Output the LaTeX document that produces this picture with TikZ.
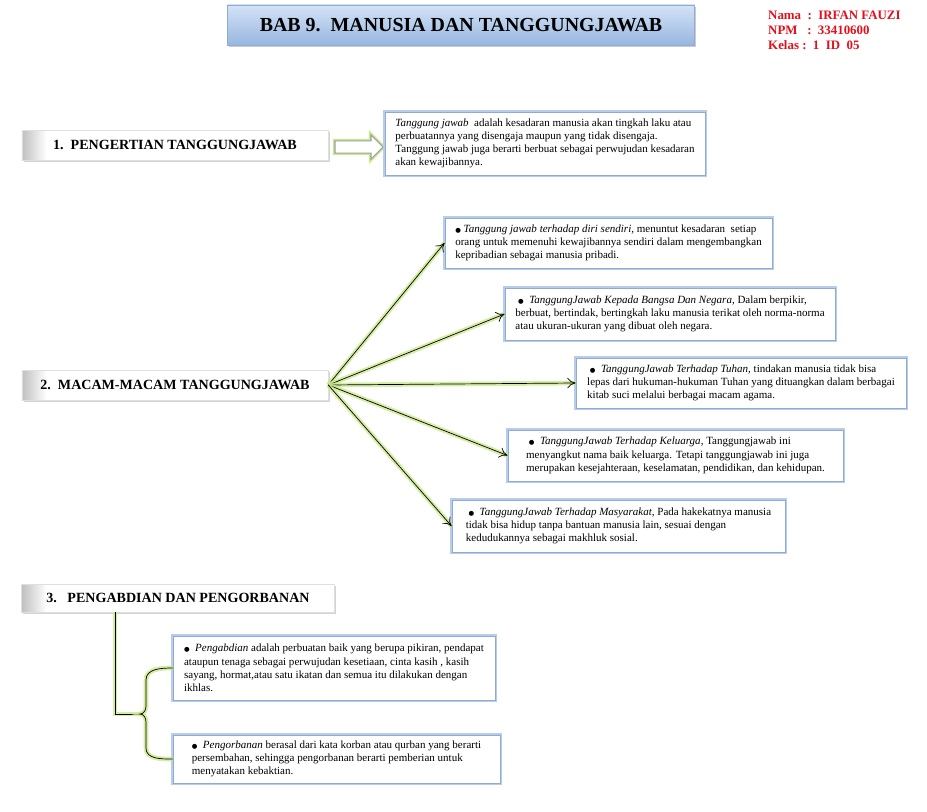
\documentclass[tikz,border=0pt]{standalone}
\usepackage{fontspec}
\setmainfont{Liberation Serif}
\newfontfamily\symfont{DejaVu Sans}
\usetikzlibrary{shapes.arrows,shadows,arrows.meta}
\definecolor{titleblue}{HTML}{98B6E0}
\definecolor{titlelight}{HTML}{D3E3F6}
\definecolor{glowblue}{HTML}{B7CDEB}
\definecolor{edgeblue}{HTML}{8FAAD4}
\definecolor{glowgreen}{HTML}{CBE98E}
\definecolor{namered}{HTML}{E3101C}
\newcommand\bul{{\symfont\fontsize{5.5}{5}\selectfont ●}}
\pgfdeclarehorizontalshading{secshade}{100bp}{color(0bp)=(gray!50); color(25bp)=(gray!50); color(29bp)=(white); color(100bp)=(white)}
\tikzset{
  secbox/.style 2 args={shading=secshade, draw=gray!25, minimum width=#1cm, minimum height=#2cm,
    font=\fontsize{12}{14}\selectfont\bfseries,
    drop shadow={opacity=.35, shadow xshift=1.5pt, shadow yshift=-2pt}},
  dbox/.style 2 args={draw=edgeblue, line width=.8pt, fill=white, align=left, inner sep=2pt,
    preaction={draw=glowblue, line width=4pt}, minimum width=#1cm, minimum height=#2cm,
    font=\fontsize{9.4}{11.3}\selectfont},
  link/.style={draw=black, line width=.6pt, -{To[length=7pt,width=9pt]},
    preaction={draw=glowgreen, -, line width=4pt, opacity=.8}},
  rod/.style={draw=black, line width=.6pt, preaction={draw=glowgreen, line width=4pt, opacity=.8}}
}
\begin{document}
\begin{tikzpicture}[x=0.03cm, y=-0.03cm]
  \useasboundingbox (0,0) rectangle (927,811);
  % judul
  \node[draw=edgeblue, top color=titlelight, bottom color=titleblue, minimum width=14.01cm, minimum height=1.2cm,
    font=\fontsize{17}{20}\selectfont\bfseries, drop shadow={opacity=.4, shadow xshift=1.5pt, shadow yshift=-2pt}]
    (title) at (461,25) {BAB 9.\ \ MANUSIA DAN TANGGUNGJAWAB};
  \node[anchor=north west, align=left, text=namered, font=\fontsize{11}{12.8}\selectfont\bfseries, inner sep=0pt]
    (info) at (768,11) {Nama\ \ :\ \ IRFAN FAUZI\\ NPM\ \ \ :\ \ 33410600\\ Kelas\ :\ \ 1\ \ ID\ \ 05};

  % bagian 1
  \node[secbox={9.18}{0.9}] (sec1) at (175,145) {1.\ \ PENGERTIAN TANGGUNGJAWAB};
  \node[single arrow, draw=gray!75, fill=white, line width=.9pt, minimum height=1.44cm, minimum width=0.72cm,
    inner sep=3pt, single arrow head extend=0.12cm, preaction={draw=glowgreen, line width=3.5pt}]
    (arr) at (356,147) {};
  \node[dbox={9.6}{1.89}] (def) at (545,143.5)
    {\textit{Tanggung jawab}\ \ adalah kesadaran manusia akan tingkah laku atau\\
     perbuatannya yang disengaja maupun yang tidak disengaja.\\
     Tanggung jawab juga berarti berbuat sebagai perwujudan kesadaran\\
     akan kewajibannya.};

  % bagian 2
  \node[secbox={9.18}{0.9}] (sec2) at (175,385) {2.\ \ MACAM-MACAM TANGGUNGJAWAB};
  \node[dbox={9.81}{1.5}] (b1) at (608.5,243)
    {\bul\ \textit{Tanggung jawab terhadap diri sendiri,} menuntut kesadaran\ \ setiap\\
     orang untuk memenuhi kewajibannya sendiri dalam mengembangkan\\
     kepribadian sebagai manusia pribadi.};
  \node[dbox={9.9}{1.56}] (b2) at (670,314)
    {\ \bul\ \ \textit{TanggungJawab Kepada Bangsa Dan Negara,} Dalam berpikir,\\
     berbuat, bertindak, bertingkah laku manusia terikat oleh norma-norma\\
     atau ukuran-ukuran yang dibuat oleh negara.};
  \node[dbox={9.9}{1.5}] (b3) at (741,383)
    {\ \bul\ \ \textit{TanggungJawab Terhadap Tuhan,} tindakan manusia tidak bisa\\
     lepas dari hukuman-hukuman Tuhan yang dituangkan dalam berbagai\\
     kitab suci melalui berbagai macam agama.};
  \node[dbox={10.05}{1.53}] (b4) at (675.5,455.5)
    {\ \bul\ \ \textit{TanggungJawab Terhadap Keluarga,} Tanggungjawab ini\\
     menyangkut nama baik keluarga. Tetapi tanggungjawab ini juga\\
     merupakan kesejahteraan, keselamatan, pendidikan, dan kehidupan.};
  \node[dbox={9.99}{1.56}] (b5) at (618.5,526)
    {\ \bul\ \ \textit{TanggungJawab Terhadap Masyarakat,} Pada hakekatnya manusia\\
     tidak bisa hidup tanpa bantuan manusia lain, sesuai dengan\\
     kedudukannya sebagai makhluk sosial.};
  \foreach \b in {b1,b2,b3,b4,b5}
    \draw[link] (sec2.east) -- (\b.west);

  % bagian 3
  \node[secbox={9.39}{0.84}] (sec3) at (178,598) {3.\ \ \ PENGABDIAN DAN PENGORBANAN};
  \node[dbox={9.66}{1.92}] (pa) at (334,668)
    {\bul\ \ \textit{Pengabdian} adalah perbuatan baik yang berupa pikiran, pendapat\\
     ataupun tenaga sebagai perwujudan kesetiaan, cinta kasih , kasih\\
     sayang, hormat,atau satu ikatan dan semua itu dilakukan dengan\\
     ikhlas.};
  \node[dbox={9.81}{1.44}] (pb) at (336.5,759)
    {\bul\ \ \textit{Pengorbanan} berasal dari kata korban atau qurban yang berarti\\
     persembahan, sehingga pengorbanan berarti pemberian untuk\\
     menyatakan kebaktian.};
  \coordinate (tip) at (115,714); \coordinate (knee) at (140,714);
  \draw[rod] (tip |- sec3.south) -- (tip) -- (knee);
  \draw[rod] (pa.west) to[out=180,in=90] (146,680) -- (146,706) to[out=-90,in=0] (knee)
    to[out=0,in=90] (146,722) -- (146,748) to[out=-90,in=180] (pb.west);
\end{tikzpicture}
\end{document}
